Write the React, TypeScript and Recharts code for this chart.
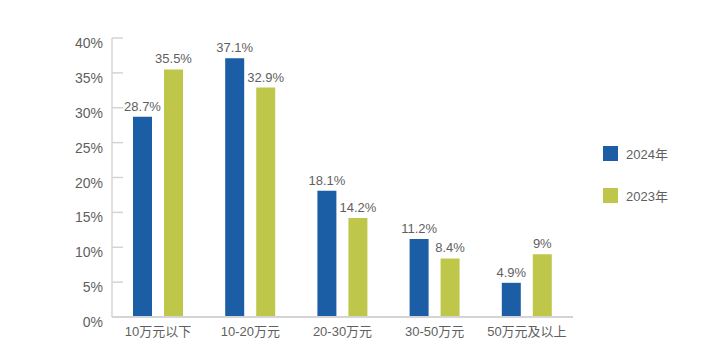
import { BarChart, Bar, XAxis, YAxis, LabelList } from "recharts";

document.body.style.margin = "0";

const categories = ["10万元以下", "10-20万元", "20-30万元", "30-50万元", "50万元及以上"];
const values2024 = [28.7, 37.1, 18.1, 11.2, 4.9];
const values2023 = [35.5, 32.9, 14.2, 8.4, 9];
const yTicks = [0, 5, 10, 15, 20, 25, 30, 35, 40];
const seriesNames = ["2024年", "2023年"];

const data = categories.map((name, i) => ({
  name,
  y2024: values2024[i],
  y2023: values2023[i],
}));

const BLUE = "#1c5ea5";
const GREEN = "#bfc74a";
const TEXT = "#5f5f5f";
const AXIS = "#d4d4d4";
const FONT = "'Liberation Sans', 'Noto Sans CJK SC', sans-serif";
const seriesColors = [BLUE, GREEN];

// tick marks sit inside the plot, label hangs just below the tick
function YTick(props: any) {
  const { x, y, payload } = props;
  return (
    <g>
      <line x1={x + 9} x2={x + 20} y1={y} y2={y} stroke={AXIS} strokeWidth={1.5} />
      <text x={x} y={y} dy={10} textAnchor="end" fill={TEXT} fontSize={14} fontFamily={FONT}>
        {payload.value}%
      </text>
    </g>
  );
}

export default function App() {
  return (
    <div style={{ width: 720, height: 352, background: "#fff", position: "relative" }}>
      <BarChart
        width={720}
        height={352}
        data={data}
        margin={{ top: 38, right: 147, bottom: 0, left: 0 }}
        barSize={19}
        barGap={12}
      >
        <XAxis
          dataKey="name"
          height={35}
          tickLine={false}
          tickMargin={4}
          axisLine={{ stroke: AXIS, strokeWidth: 2 }}
          tick={{ fill: TEXT, fontSize: 13, fontFamily: FONT }}
          interval={0}
        />
        <YAxis
          width={112}
          domain={[0, 40]}
          ticks={yTicks}
          tickSize={0}
          tickMargin={9}
          tickLine={false}
          axisLine={{ stroke: AXIS, strokeWidth: 1.5 }}
          tick={<YTick />}
          interval={0}
        />
        <Bar dataKey="y2024" name={seriesNames[0]} fill={BLUE} isAnimationActive={false}>
          <LabelList
            dataKey="y2024"
            position="top"
            offset={6}
            formatter={(v: any) => `${v}%`}
            fill={TEXT}
            fontSize={13}
            fontFamily={FONT}
          />
        </Bar>
        <Bar dataKey="y2023" name={seriesNames[1]} fill={GREEN} isAnimationActive={false}>
          <LabelList
            dataKey="y2023"
            position="top"
            offset={6}
            formatter={(v: any) => `${v}%`}
            fill={TEXT}
            fontSize={13}
            fontFamily={FONT}
          />
        </Bar>
      </BarChart>
      <div style={{ position: "absolute", left: 603, top: 146, fontFamily: FONT, fontSize: 13, color: TEXT }}>
        {seriesNames.map((n, i) => (
          <div key={n} style={{ display: "flex", alignItems: "center", height: 15, marginBottom: 27 }}>
            <span style={{ width: 15, height: 15, background: seriesColors[i], marginRight: 8, display: "inline-block" }} />
            <span>{n}</span>
          </div>
        ))}
      </div>
    </div>
  );
}
